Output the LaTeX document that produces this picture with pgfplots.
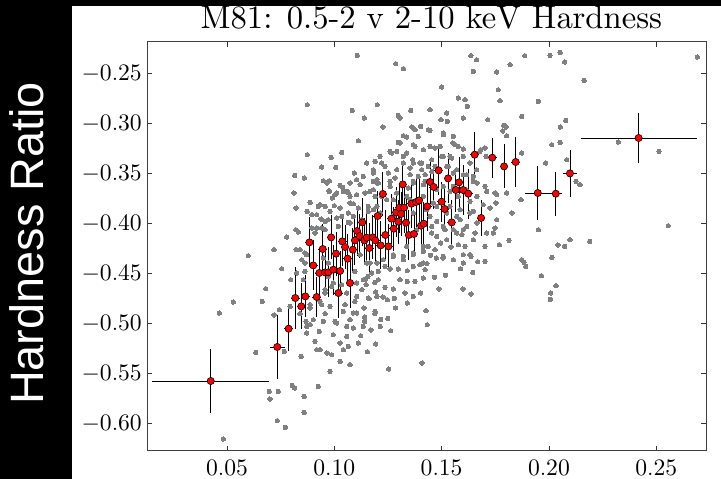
\RequirePackage{fix-cm}
\documentclass[border=0pt]{standalone}
\usepackage{fontspec}
\newfontfamily\labelfont{Liberation Sans}
\DeclareFontShape{OT1}{cmr}{m}{n}{<->cmr10}{}
\newcommand\cmten{\fontencoding{OT1}\fontfamily{cmr}\fontseries{m}\fontshape{n}}
\usepackage{pgfplots}
\pgfplotsset{compat=1.18}
\begin{document}
\begin{tikzpicture}
\path[use as bounding box] (0,0) rectangle (721bp,479bp);
\fill[black] (0,0) rectangle (721bp,479bp);
\fill[white] (72bp,0) rectangle (721bp,473bp);
\begin{axis}[
  at={(147bp,28.3bp)}, anchor=south west,
  scale only axis, width=559bp, height=409bp,
  xmin=0.0127, xmax=0.2732, ymin=-0.627, ymax=-0.218,
  xtick={0.05,0.10,0.15,0.20,0.25},
  ytick={-0.60,-0.55,-0.50,-0.45,-0.40,-0.35,-0.30,-0.25},
  tick align=inside,
  major tick length=5bp,
  tick style={black!80, line width=0.8bp},
  axis line style={black!75, line width=1bp},
  xticklabel style={/pgf/number format/fixed, /pgf/number format/precision=2, /pgf/number format/fixed zerofill},
  yticklabel style={/pgf/number format/fixed, /pgf/number format/precision=2, /pgf/number format/fixed zerofill},
  tick label style={font=\cmten\fontsize{23.7}{28}\selectfont, inner sep=0bp},
  xticklabel shift=9bp,
  yticklabel shift=5bp,
  title={M81: 0.5-2 v 2-10 keV Hardness},
  title style={font=\cmten\fontsize{32.8}{39}\selectfont, at={(0.5,1)}, anchor=base, xshift=5bp, yshift=7bp, inner sep=0bp},
]
\addplot[only marks, mark=*, color=black!50, mark size=2.2bp, mark options={solid, draw=black!50, fill=black!50, line width=0pt}] table {
x y
0.0874 -0.2810
0.1107 -0.2317
0.1084 -0.2867
0.1112 -0.3170
0.0874 -0.3310
0.0985 -0.3337
0.1034 -0.3287
0.0815 -0.3517
0.0860 -0.3543
0.0941 -0.3433
0.1006 -0.3437
0.1093 -0.3493
0.0949 -0.3570
0.0977 -0.3570
0.1104 -0.3560
0.1027 -0.3617
0.1039 -0.3637
0.0812 -0.3693
0.0887 -0.3787
0.0822 -0.3843
0.0977 -0.3677
0.0991 -0.3743
0.1011 -0.3693
0.1058 -0.3677
0.1073 -0.3727
0.1089 -0.3800
0.1000 -0.3820
0.0925 -0.3827
0.0957 -0.3827
0.0873 -0.3877
0.0895 -0.3910
0.0918 -0.3910
0.0980 -0.3877
0.1011 -0.3943
0.1034 -0.3927
0.1065 -0.3893
0.1065 -0.3987
0.0972 -0.3960
0.0938 -0.3953
0.0895 -0.4043
0.0941 -0.4043
0.0820 -0.4060
0.0832 -0.4083
0.0778 -0.4133
0.0910 -0.4093
0.1089 -0.3927
0.0599 -0.4320
0.0719 -0.4260
0.0755 -0.4450
0.0680 -0.4650
0.0797 -0.4560
0.0464 -0.4893
0.0529 -0.4783
0.0664 -0.4777
0.0719 -0.4913
0.0744 -0.4860
0.0634 -0.5287
0.0767 -0.5277
0.0845 -0.5327
0.0871 -0.5093
0.0697 -0.5677
0.0700 -0.5753
0.0739 -0.5677
0.0804 -0.5617
0.0815 -0.5643
0.0859 -0.5727
0.0925 -0.5627
0.0734 -0.5970
0.0772 -0.6037
0.0859 -0.5887
0.0483 -0.6153
0.0980 -0.5477
0.0965 -0.5293
0.0988 -0.5310
0.1027 -0.5377
0.1073 -0.5410
0.1042 -0.5260
0.0918 -0.5260
0.0933 -0.5260
0.0910 -0.5177
0.0887 -0.5010
0.0930 -0.5077
0.0995 -0.5110
0.1058 -0.5127
0.1089 -0.5043
0.1112 -0.5193
0.1027 -0.5193
0.1065 -0.5227
0.0868 -0.4977
0.0840 -0.4900
0.0957 -0.4900
0.0980 -0.4827
0.1050 -0.4810
0.1089 -0.4893
0.1073 -0.4960
0.1003 -0.4977
0.0887 -0.4810
0.0933 -0.4777
0.0957 -0.4693
0.1058 -0.4693
0.1096 -0.4777
0.0855 -0.4560
0.0863 -0.4477
0.0848 -0.4360
0.0863 -0.4293
0.0822 -0.4260
0.0995 -0.4593
0.1034 -0.4610
0.1104 -0.4593
0.1096 -0.4477
0.0972 -0.4527
0.1769 -0.4210
0.1814 -0.4167
0.1873 -0.4360
0.1884 -0.4387
0.1892 -0.4427
0.1965 -0.4520
0.2014 -0.4337
0.2033 -0.4620
0.2008 -0.4693
0.2007 -0.4757
0.2042 -0.4213
0.2073 -0.4227
0.2098 -0.4160
0.2190 -0.4177
0.1668 -0.4380
0.1645 -0.4487
0.1637 -0.4703
0.1599 -0.4653
0.1588 -0.4450
0.1637 -0.4327
0.1601 -0.4310
0.1609 -0.4227
0.1544 -0.4233
0.1518 -0.4517
0.1487 -0.4653
0.1467 -0.4537
0.1475 -0.4343
0.1506 -0.4343
0.1431 -0.4400
0.1448 -0.4317
0.1495 -0.4193
0.1427 -0.4870
0.1433 -0.5010
0.1409 -0.5393
0.1253 -0.5453
0.1193 -0.5203
0.1154 -0.5280
0.1170 -0.5063
0.1214 -0.5027
0.1216 -0.4957
0.1249 -0.4947
0.1263 -0.5070
0.1189 -0.4900
0.1141 -0.4933
0.1141 -0.4977
0.1138 -0.4843
0.1123 -0.5120
0.1285 -0.4843
0.1247 -0.4760
0.1340 -0.4793
0.1368 -0.4727
0.1402 -0.4693
0.1329 -0.4693
0.1280 -0.4747
0.1226 -0.4733
0.1193 -0.4683
0.1163 -0.4750
0.1148 -0.4610
0.1189 -0.4587
0.1236 -0.4637
0.1275 -0.4653
0.1340 -0.4577
0.1306 -0.4560
0.1376 -0.4577
0.1415 -0.4543
0.1423 -0.4460
0.1399 -0.4410
0.1368 -0.4427
0.1340 -0.4470
0.1298 -0.4453
0.1260 -0.4453
0.1205 -0.4477
0.1157 -0.4527
0.1135 -0.4560
0.1166 -0.4393
0.1228 -0.4360
0.1275 -0.4310
0.1322 -0.4327
0.1368 -0.4310
0.1415 -0.4277
0.1438 -0.4227
0.1337 -0.4227
0.2692 -0.2333
0.2164 -0.2567
0.2052 -0.2287
0.2073 -0.2383
0.2005 -0.2317
0.1887 -0.2320
0.1636 -0.2320
0.1663 -0.2360
0.1648 -0.2477
0.1757 -0.2483
0.1819 -0.2410
0.1764 -0.2660
0.1772 -0.2770
0.1951 -0.2777
0.1578 -0.2743
0.1609 -0.2760
0.1620 -0.2827
0.1500 -0.2633
0.1286 -0.2400
0.1322 -0.2450
0.1200 -0.2810
0.1356 -0.2867
0.1446 -0.2860
0.1524 -0.2893
0.1298 -0.2917
0.1306 -0.2943
0.1140 -0.2943
0.1601 -0.2943
0.1497 -0.2960
0.1527 -0.2977
0.1715 -0.2960
0.1873 -0.2927
0.2078 -0.2967
0.2053 -0.3033
0.1789 -0.3017
0.1800 -0.3033
0.1785 -0.3073
0.1803 -0.3120
0.1226 -0.3033
0.1361 -0.3033
0.1402 -0.3027
0.1446 -0.3067
0.1508 -0.3093
0.1555 -0.3127
0.1322 -0.3120
0.1337 -0.3133
0.1391 -0.3127
0.1298 -0.3187
0.1376 -0.3227
0.1446 -0.3227
0.1493 -0.3227
0.1562 -0.3210
0.1578 -0.3227
0.1601 -0.3253
0.1682 -0.3260
0.1702 -0.3243
0.1873 -0.3293
0.2013 -0.3210
0.2052 -0.3187
0.2083 -0.3360
0.2126 -0.3577
0.2145 -0.3610
0.1985 -0.3393
0.1870 -0.3760
0.1827 -0.3893
0.1951 -0.4060
0.2323 -0.3183
0.2513 -0.3277
0.2556 -0.4020
0.1749 -0.4043
0.1749 -0.3693
0.1803 -0.3693
0.1753 -0.3793
0.1694 -0.3810
0.1663 -0.3460
0.1648 -0.3577
0.1614 -0.3660
0.1707 -0.3327
0.1213 -0.3327
0.1267 -0.3293
0.1322 -0.3327
0.1365 -0.3360
0.1407 -0.3393
0.1454 -0.3360
0.1508 -0.3327
0.1547 -0.3343
0.1151 -0.3393
0.1182 -0.3460
0.1236 -0.3427
0.1291 -0.3460
0.1353 -0.3443
0.1407 -0.3460
0.1454 -0.3477
0.1531 -0.3427
0.1555 -0.3493
0.1617 -0.3510
0.1135 -0.3527
0.1198 -0.3560
0.1260 -0.3577
0.1368 -0.3593
0.1423 -0.3577
0.1166 -0.3677
0.1221 -0.3727
0.1275 -0.3760
0.1337 -0.3727
0.1391 -0.3760
0.1508 -0.3627
0.1555 -0.3627
0.1158 -0.3827
0.1213 -0.3893
0.1275 -0.3927
0.1368 -0.3893
0.1430 -0.3860
0.1477 -0.3827
0.1524 -0.3893
0.1570 -0.3927
0.1632 -0.3893
0.1128 -0.3960
0.1454 -0.4093
0.1516 -0.4060
0.1570 -0.4093
0.1601 -0.4060
0.1656 -0.4093
0.1710 -0.4093
0.0933 -0.3810
0.0975 -0.3670
0.1003 -0.3710
0.1042 -0.3677
0.1065 -0.3687
0.1104 -0.3710
0.1143 -0.3693
0.1182 -0.3660
0.1198 -0.3593
0.1120 -0.3610
0.1073 -0.3593
0.0965 -0.3593
0.1027 -0.3843
0.1073 -0.3793
0.1112 -0.3843
0.1158 -0.3877
0.1198 -0.3827
0.0957 -0.3977
0.0918 -0.4043
0.0957 -0.4060
0.1019 -0.4027
0.1073 -0.3993
0.0840 -0.4260
0.0871 -0.4310
0.0863 -0.4393
0.0825 -0.4493
0.0949 -0.4343
0.0972 -0.4393
0.1120 -0.4310
0.1151 -0.4393
0.1174 -0.4493
0.1205 -0.4560
0.1143 -0.4560
0.1128 -0.4660
0.1158 -0.4743
0.1198 -0.4727
0.1104 -0.4727
0.0988 -0.4627
0.0957 -0.4660
0.0794 -0.4827
0.0887 -0.4843
0.0941 -0.4810
0.1042 -0.4877
0.1104 -0.4893
0.1190 -0.4877
0.0902 -0.4960
0.0949 -0.4977
0.1011 -0.4993
0.1058 -0.5027
0.1135 -0.5027
0.0871 -0.5027
0.1376 -0.3060
0.1438 -0.3060
0.1508 -0.3110
0.1552 -0.3193
0.1306 -0.3193
0.1260 -0.3277
0.1291 -0.3277
0.1368 -0.3210
0.1415 -0.3260
0.1469 -0.3243
0.1500 -0.3327
0.1539 -0.3327
0.1601 -0.3327
0.1632 -0.3393
0.1679 -0.3277
0.1190 -0.3377
0.1221 -0.3393
0.1337 -0.3293
0.1322 -0.3393
0.1368 -0.3393
0.1399 -0.3393
0.1438 -0.3427
0.1469 -0.3427
0.1524 -0.3427
0.1570 -0.3460
0.1601 -0.3510
0.1648 -0.3527
0.1664 -0.3593
0.1702 -0.3627
0.1182 -0.3493
0.1252 -0.3493
0.1283 -0.3543
0.1353 -0.3510
0.1391 -0.3527
0.1423 -0.3510
0.1182 -0.3577
0.1205 -0.3593
0.1260 -0.3627
0.1291 -0.3693
0.1345 -0.3643
0.1368 -0.3577
0.1415 -0.3610
0.1477 -0.3660
0.1539 -0.3677
0.1578 -0.3727
0.1632 -0.3777
0.1664 -0.3727
0.1710 -0.3677
0.1757 -0.3710
0.1190 -0.3727
0.1244 -0.3760
0.1353 -0.3760
0.1415 -0.3727
0.1461 -0.3793
0.1539 -0.3827
0.1586 -0.3860
0.1648 -0.3877
0.1726 -0.3843
0.1757 -0.3960
0.1182 -0.3860
0.1446 -0.3927
0.1477 -0.3977
0.1586 -0.3960
0.1617 -0.4027
0.1664 -0.3993
0.1741 -0.4093
0.1384 -0.4060
0.1454 -0.4027
0.1508 -0.4027
0.1555 -0.4060
0.1594 -0.4110
0.1648 -0.4160
0.1702 -0.4227
0.1477 -0.4127
0.1524 -0.4160
0.1578 -0.4210
0.1632 -0.4310
0.1702 -0.4377
0.1415 -0.4227
0.1469 -0.4260
0.1508 -0.4327
0.1555 -0.4360
0.1601 -0.4393
0.1368 -0.4293
0.1322 -0.4360
0.1275 -0.4327
0.1415 -0.4393
0.1198 -0.4393
0.1236 -0.4427
};
\addplot[only marks, mark=*, mark size=3.6bp,
  mark options={solid, draw=black, fill=red, line width=0.6bp},
  error bars/.cd, x dir=both, y dir=both, x explicit, y explicit,
  error mark=none, error bar style={black, line width=0.9bp}]
  table[x=x, y=y, x error=ex, y error=ey] {
x y ex ey
0.0424 -0.5573 0.0272 0.032
0.0734 -0.5233 0.0035 0.032
0.0787 -0.5050 0.002 0.0225
0.0818 -0.4743 0.002 0.031
0.0846 -0.4827 0.002 0.023
0.0865 -0.4727 0.002 0.021
0.0884 -0.4187 0.002 0.025
0.0902 -0.4417 0.002 0.025
0.0918 -0.4733 0.002 0.020
0.0930 -0.4493 0.002 0.025
0.0946 -0.4253 0.002 0.025
0.0957 -0.4487 0.002 0.020
0.0972 -0.4487 0.002 0.025
0.0985 -0.4137 0.002 0.022
0.0995 -0.4460 0.002 0.025
0.1008 -0.4300 0.002 0.022
0.1019 -0.4693 0.002 0.025
0.1027 -0.4473 0.002 0.020
0.1037 -0.4177 0.002 0.025
0.1050 -0.4233 0.002 0.022
0.1062 -0.4350 0.002 0.025
0.1073 -0.4593 0.002 0.025
0.1086 -0.4260 0.002 0.022
0.1096 -0.4167 0.002 0.025
0.1106 -0.4073 0.002 0.025
0.1118 -0.4123 0.002 0.022
0.1130 -0.3987 0.002 0.024
0.1140 -0.4167 0.002 0.022
0.1151 -0.4140 0.002 0.025
0.1163 -0.4243 0.002 0.025
0.1179 -0.4137 0.002 0.022
0.1191 -0.4167 0.002 0.025
0.1202 -0.3923 0.002 0.025
0.1216 -0.4217 0.002 0.024
0.1226 -0.3703 0.002 0.022
0.1238 -0.4113 0.002 0.025
0.1252 -0.4227 0.002 0.022
0.1266 -0.3950 0.002 0.025
0.1277 -0.4050 0.002 0.022
0.1288 -0.3887 0.002 0.025
0.1298 -0.3980 0.002 0.022
0.1303 -0.3840 0.002 0.025
0.1311 -0.3903 0.002 0.022
0.1319 -0.3607 0.002 0.022
0.1325 -0.3840 0.002 0.025
0.1334 -0.3990 0.002 0.025
0.1347 -0.4113 0.002 0.025
0.1359 -0.3800 0.002 0.024
0.1371 -0.4103 0.002 0.022
0.1381 -0.3783 0.002 0.025
0.1395 -0.3767 0.002 0.022
0.1404 -0.4020 0.002 0.025
0.1417 -0.4000 0.002 0.022
0.1433 -0.3827 0.002 0.025
0.1446 -0.3583 0.002 0.022
0.1463 -0.3633 0.002 0.022
0.1486 -0.3467 0.002 0.025
0.1500 -0.3780 0.002 0.020
0.1514 -0.3853 0.002 0.022
0.1530 -0.3547 0.002 0.025
0.1547 -0.3987 0.002 0.022
0.1566 -0.3663 0.002 0.022
0.1581 -0.3587 0.002 0.025
0.1600 -0.3663 0.002 0.025
0.1624 -0.3700 0.002 0.025
0.1654 -0.3310 0.002 0.023
0.1684 -0.3943 0.002 0.018
0.1736 -0.3340 0.002 0.020
0.1791 -0.3427 0.002 0.022
0.1845 -0.3383 0.002 0.025
0.1948 -0.3693 0.0058 0.027
0.2032 -0.3700 0.003 0.022
0.2098 -0.3497 0.0033 0.0237
0.2418 -0.3143 0.027 0.025
};
\end{axis}
\node[rotate=90, anchor=base, text=white, font=\labelfont\fontsize{47}{56}\selectfont, inner sep=0bp] at (43bp,235.5bp) {Hardness Ratio};
\end{tikzpicture}
\end{document}
